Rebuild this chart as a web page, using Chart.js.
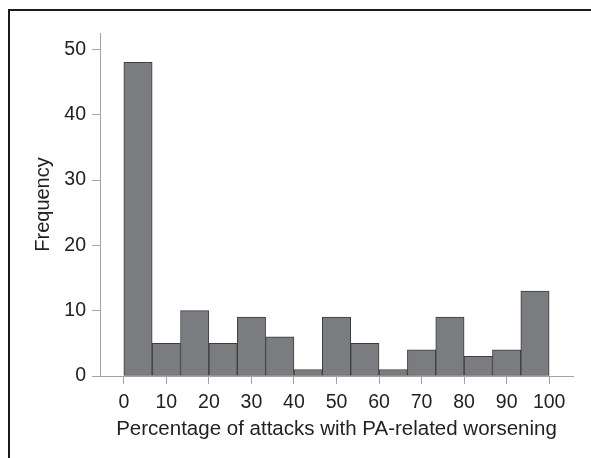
<!DOCTYPE html>
<html>
<head>
<meta charset="utf-8">
<script src="https://cdn.jsdelivr.net/npm/chart.js@4.4.1/dist/chart.umd.min.js"></script>
<style>
  html, body { margin: 0; padding: 0; background: #fff; }
  #wrap { position: relative; width: 591px; height: 458px; overflow: hidden; }
  #frame { position: absolute; left: 8px; top: 9px; right: 0; bottom: 0;
           border-top: 2px solid #1b1b1b; border-left: 2px solid #1b1b1b; }
  canvas { position: absolute; left: 0; top: 0; }
</style>
</head>
<body>
<div id="wrap">
  <div id="frame"></div>
  <canvas id="histo" width="591" height="458"></canvas>
</div>
<script>
// histogram bins (percent) and counts
const binEdges = [0, 6.67, 13.33, 20, 26.67, 33.33, 40, 46.67, 53.33, 60, 66.67, 73.33, 80, 86.67, 93.33, 100];
const frequency = [48, 5, 10, 5, 9, 6, 1, 9, 5, 1, 4, 9, 3, 4, 13];
const xTicks = [0, 10, 20, 30, 40, 50, 60, 70, 80, 90, 100];
const yTicks = [0, 10, 20, 30, 40, 50];

const fontFam = "'Liberation Sans', Arial, Helvetica, sans-serif";
const axisGrey = "#a3a3a3";

const points = frequency.map((f, i) => ({ x: (binEdges[i] + binEdges[i + 1]) / 2, y: f }));

new Chart(document.getElementById("histo"), {
    type: "bar",
    data: {
        datasets: [{
            label: "Frequency",
            data: points,
            backgroundColor: "#7b7c80",
            borderColor: "#3d3d3f",
            borderWidth: 1,
            borderSkipped: false,
            barPercentage: 1,
            categoryPercentage: 1
        }]
    },
    options: {
        responsive: false,
        animation: false,
        devicePixelRatio: 1,
        layout: { padding: { top: 33, right: 18, bottom: 0, left: 0 } },
        plugins: { legend: { display: false }, tooltip: { enabled: false } },
        scales: {
            x: {
                type: "linear",
                min: -5.6,
                max: 105.6,
                offset: false,
                afterBuildTicks: s => { s.ticks = xTicks.map(v => ({ value: v })); },
                afterFit: s => { s.height = 82; },
                grid: { drawOnChartArea: false, drawTicks: true, tickLength: 8, color: axisGrey, offset: false },
                border: { display: true, color: axisGrey, width: 1 },
                ticks: { padding: 7, color: "#222", font: { family: fontFam, size: 19.5 }, maxRotation: 0, autoSkip: false },
                title: {
                    display: true,
                    text: "Percentage of attacks with PA-related worsening",
                    color: "#222",
                    font: { family: fontFam, size: 20.5 },
                    padding: { top: 0, bottom: 16 }
                }
            },
            y: {
                min: 0,
                max: 52.5,
                afterBuildTicks: s => { s.ticks = yTicks.map(v => ({ value: v })); },
                afterFit: s => { s.width = 100; },
                grid: { drawOnChartArea: false, drawTicks: true, tickLength: 8, color: axisGrey },
                border: { display: true, color: axisGrey, width: 1 },
                ticks: { padding: 6, color: "#222", font: { family: fontFam, size: 19.5 } },
                title: {
                    display: true,
                    text: "Frequency",
                    color: "#222",
                    font: { family: fontFam, size: 20 },
                    padding: { top: 31, bottom: 0 }
                }
            }
        }
    }
});
</script>
</body>
</html>
